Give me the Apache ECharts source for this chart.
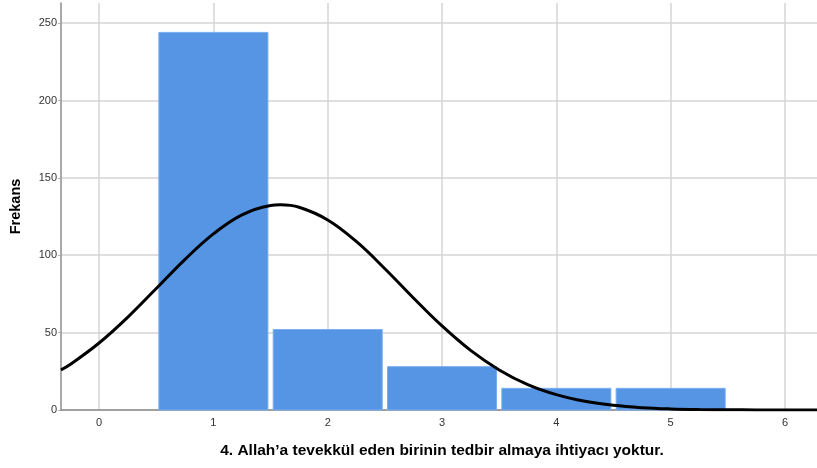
<!DOCTYPE html>
<html><head><meta charset="utf-8">
<script src="https://cdn.jsdelivr.net/npm/echarts@6/dist/echarts.min.js"></script>
<style>html,body{margin:0;padding:0;background:#fff}#c{width:817px;height:468px}</style>
</head><body><div id="c"></div>
<script>
const categories = [1, 2, 3, 4, 5];
const frequencies = [244, 52, 28, 14, 14];
const curveX = [-0.333, -0.25, 0, 0.25, 0.5, 0.75, 1, 1.25, 1.5, 1.585, 1.75, 2, 2.25, 2.5, 2.75, 3, 3.25, 3.5, 3.75, 4, 4.25, 4.5, 4.75, 5, 5.25, 5.5, 5.75, 6, 6.3];
const curveY = [25.9, 29.6, 43.3, 59.9, 78.5, 97.2, 113.8, 126.1, 132.2, 132.6, 131.0, 122.8, 108.9, 91.3, 72.4, 54.3, 38.5, 25.9, 16.4, 9.9, 5.6, 3.0, 1.5, 0.7, 0.3, 0.14, 0.05, 0.02, 0.0];
const yTicks = [0, 50, 100, 150, 200, 250];
const xTicks = [0, 1, 2, 3, 4, 5, 6];
const xTitle = "4. Allah\u2019a tevekk\u00fcl eden birinin tedbir almaya ihtiyac\u0131 yoktur.";
const yTitle = "Frekans";

const chart = echarts.init(document.getElementById('c'), null, {renderer: 'canvas'});
const barHalf = 0.477;
chart.setOption({
  animation: false,
  grid: {left: 61, right: 0, top: 3, bottom: 58, containLabel: false, outerBoundsMode: 'none'},
  xAxis: {
    type: 'value', min: -0.333, max: 6.28,
    name: xTitle, nameLocation: 'middle', nameGap: 33,
    nameTextStyle: {fontFamily: 'Liberation Sans', fontWeight: 'bold', fontSize: 15.5, color: '#000', padding: [0, 0, 0, 6]},
    axisLine: {show: true, onZero: false, lineStyle: {color: '#8c8c8c', width: 1.5}},
    axisTick: {show: false, customValues: xTicks},
    axisLabel: {customValues: xTicks, color: '#333', fontFamily: 'Liberation Sans', fontSize: 11, margin: 7},
    splitLine: {show: true, lineStyle: {color: '#d4d4d4', width: 1.5}}
  },
  yAxis: {
    type: 'value', min: 0, max: 263, interval: 50,
    name: yTitle, nameLocation: 'middle', nameGap: 38, nameRotate: 90,
    nameTextStyle: {fontFamily: 'Liberation Sans', fontWeight: 'bold', fontSize: 14.5, color: '#000'},
    axisLine: {show: true, onZero: false, lineStyle: {color: '#8c8c8c', width: 1.5}},
    axisTick: {show: true, length: 3, lineStyle: {color: '#b0b0b0', width: 1}},
    axisLabel: {showMaxLabel: false, color: '#333', fontFamily: 'Liberation Sans', fontSize: 11, margin: 4},
    splitLine: {show: true, showMaxLine: false, lineStyle: {color: '#d4d4d4', width: 1.5}}
  },
  series: [
    {
      type: 'custom',
      data: categories.map((c, i) => [c, frequencies[i]]),
      renderItem: function (params, api) {
        const x = api.value(0), v = api.value(1);
        const p0 = api.coord([x - barHalf, v]);
        const p1 = api.coord([x + barHalf, 0]);
        return {
          type: 'rect',
          shape: {x: p0[0], y: p0[1], width: p1[0] - p0[0], height: p1[1] - p0[1]},
          style: {fill: '#5595e4', stroke: '#7aaef0', lineWidth: 1}
        };
      },
      z: 2
    },
    {
      type: 'line',
      data: curveX.map((x, i) => [x, curveY[i]]),
      smooth: 0.4, showSymbol: false,
      lineStyle: {color: '#000', width: 3},
      z: 3
    }
  ]
});
</script></body></html>
